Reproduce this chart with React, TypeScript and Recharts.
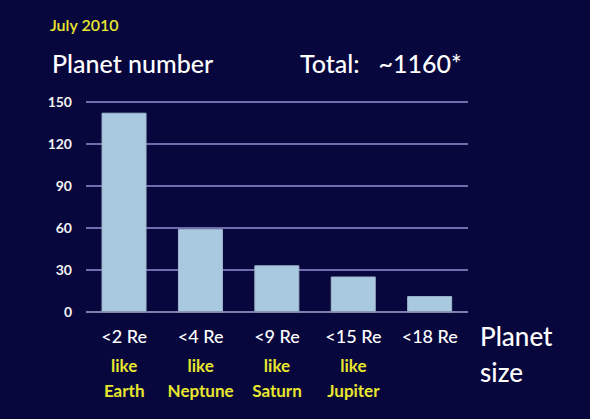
import React from "react";
import { BarChart, Bar, XAxis, YAxis, CartesianGrid } from "recharts";

const categories = ["<2 Re", "<4 Re", "<9 Re", "<15 Re", "<18 Re"];
const likeLines = ["like", "like", "like", "like", ""];
const planetNames = ["Earth", "Neptune", "Saturn", "Jupiter", ""];
const planetCounts = [142, 59, 33, 25, 11];
const yTicks = [0, 30, 60, 90, 120, 150];

const data = categories.map((c, i) => ({
  name: c,
  like: likeLines[i],
  planet: planetNames[i],
  count: planetCounts[i],
}));

const FONT = "Lato, 'Open Sans', sans-serif";
const BG = "#07063d";
const YELLOW = "#e8e62e";

const XTick = (props: any) => {
  const { x, y, index } = props;
  const d = data[index];
  return (
    <g>
      <text x={x} y={y + 31} textAnchor="middle" fill="#ffffff" fontSize={18} fontWeight={500} fontFamily={FONT}>
        {d.name}
      </text>
      {d.like && (
        <text x={x} y={y + 60} textAnchor="middle" fill={YELLOW} fontSize={17} fontWeight={700} fontFamily={FONT}>
          {d.like}
        </text>
      )}
      {d.planet && (
        <text x={x} y={y + 85} textAnchor="middle" fill={YELLOW} fontSize={17} fontWeight={700} fontFamily={FONT}>
          {d.planet}
        </text>
      )}
    </g>
  );
};

export default function App() {
  return (
    <div
      style={{
        position: "absolute",
        left: 0,
        top: 0,
        width: 590,
        height: 419,
        background: BG,
        overflow: "hidden",
        fontFamily: FONT,
      }}
    >
      <div style={{ position: "absolute", left: 50, top: 15, color: YELLOW, fontSize: 16, fontWeight: 600 }}>
        July 2010
      </div>
      <div style={{ position: "absolute", left: 52, top: 48, color: "#ffffff", fontSize: 25, fontWeight: 500 }}>
        Planet number
      </div>
      <div style={{ position: "absolute", left: 300, top: 48, color: "#ffffff", fontSize: 25, fontWeight: 500, whiteSpace: "pre" }}>
        {"Total:   ~1160*"}
      </div>
      <div style={{ position: "absolute", left: 480, top: 318, color: "#ffffff", fontSize: 26, fontWeight: 500, lineHeight: "36px" }}>
        Planet
        <br />
        size
      </div>
      <BarChart
        width={590}
        height={419}
        data={data}
        margin={{ top: 102, right: 122, bottom: 77, left: 46 }}
        barCategoryGap="21%"
      >
        <CartesianGrid horizontal vertical={false} stroke="#9391d6" strokeWidth={1.5} />
        <XAxis
          dataKey="name"
          height={30}
          tickSize={0}
          tickMargin={0}
          tickLine={false}
          axisLine={{ stroke: "#8584a8", strokeWidth: 1.5 }}
          tick={<XTick />}
          interval={0}
        />
        <YAxis
          width={40}
          domain={[0, 150]}
          ticks={yTicks}
          tickLine={false}
          axisLine={false}
          tickSize={6}
          tickMargin={8}
          tick={{ fill: "#f2f2f2", fontSize: 14, fontWeight: 700, fontFamily: FONT }}
        />
        <Bar dataKey="count" fill="#a9c9e0" stroke="#9fb8cc" strokeWidth={1} isAnimationActive={false} />
      </BarChart>
    </div>
  );
}
